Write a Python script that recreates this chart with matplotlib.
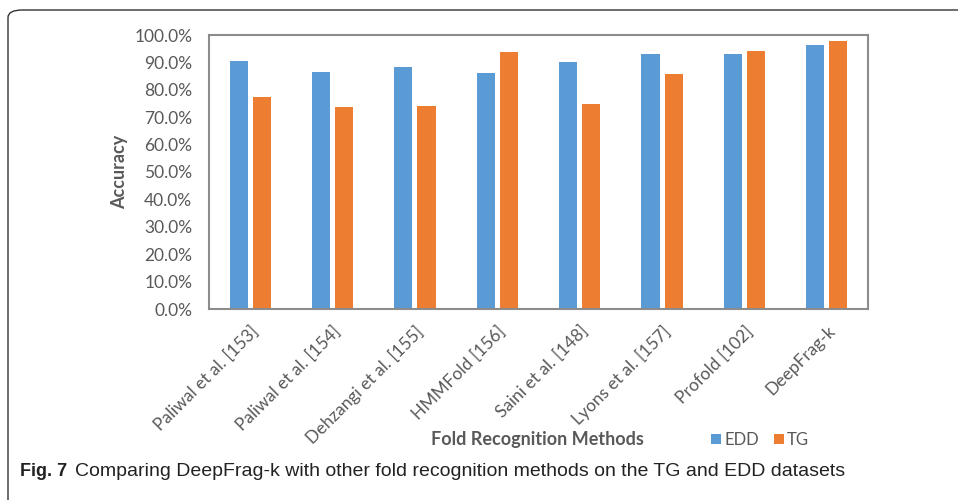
import numpy as np
import matplotlib.pyplot as plt
from matplotlib.patches import FancyBboxPatch
from matplotlib.ticker import PercentFormatter

methods = ["Paliwal et al. [153]", "Paliwal et al. [154]", "Dehzangi et al. [155]",
           "HMMFold [156]", "Saini et al. [148]", "Lyons et al. [157]",
           "Profold [102]", "DeepFrag-k"]
edd = [90.4, 86.4, 88.3, 86.1, 90.1, 93.1, 93.1, 96.3]
tg = [77.3, 73.6, 74.1, 93.9, 74.7, 85.7, 94.2, 97.7]

plt.rcParams['font.family'] = ['Lato', 'DejaVu Sans']
gray = '#595959'

fig = plt.figure(figsize=(9.58, 5.0), dpi=100)
# plot area in pixels: x 209..868, y 35..309
ax = fig.add_axes([209/958, 1-309/500, (868-209)/958, (309-35)/500])

x = np.arange(len(methods))
w = 0.22
ax.bar(x - 0.14, edd, w, color='#5B9BD5', label='EDD')
ax.bar(x + 0.14, tg, w, color='#ED7D31', label='TG')

ax.set_xlim(-0.5, len(methods) - 0.5)
ax.set_ylim(0, 100)
ax.set_yticks(np.arange(0, 101, 10))
ax.yaxis.set_major_formatter(PercentFormatter(decimals=1))
ax.set_xticks(x)
ax.set_xticklabels(methods, rotation=45, ha='right', rotation_mode='anchor')
ax.tick_params(length=0, labelsize=12.5, colors=gray)
ax.tick_params(axis='y', pad=12)
ax.tick_params(axis='x', pad=10)
for s in ax.spines.values():
    s.set_color('#8c8c8c')
    s.set_linewidth(1.5)

fig.text(120/958, 1-172/500, 'Accuracy', rotation=90, ha='center', va='center',
         fontsize=13, fontweight='bold', color=gray)
fig.text(537/958, 1-440/500, 'Fold Recognition Methods', ha='center', va='center',
         fontsize=13, fontweight='bold', color=gray)
ax.legend(loc='center', bbox_to_anchor=(760/958, 1-440/500), bbox_transform=fig.transFigure,
          ncol=2, frameon=False, fontsize=12, labelcolor=gray, handlelength=0.6,
          handleheight=0.6, handletextpad=0.2, columnspacing=0.9)

# caption
cap = ['Liberation Sans', 'DejaVu Sans']
fig.text(20/958, 1-472/500, 'Fig. 7', ha='left', va='center', fontsize=13,
         fontweight='bold', family=cap, color='#222222')
fig.text(75/958, 1-472/500, 'Comparing DeepFrag-k with other fold recognition methods on the TG and EDD datasets',
         ha='left', va='center', fontsize=14, family=cap, color='#222222')

# outer rounded frame, cropped on right and bottom
frame = FancyBboxPatch((8/958, -0.1), 1.2, 1-10/500 + 0.1, boxstyle='round,pad=0,rounding_size=0.015',
                       transform=fig.transFigure, fill=False, edgecolor='#333333', linewidth=1.0)
fig.patches.append(frame)

fig.savefig('out.png', dpi=100)
